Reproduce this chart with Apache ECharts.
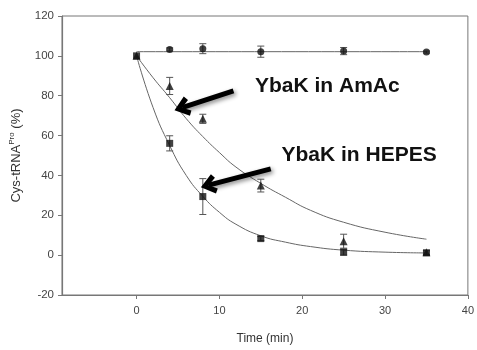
<!DOCTYPE html>
<html>
<head>
<meta charset="utf-8">
<script src="https://cdn.jsdelivr.net/npm/echarts@6/dist/echarts.min.js"></script>
<style>
  html, body { margin: 0; padding: 0; background: #fff; }
  #main { width: 477px; height: 350px; }
</style>
</head>
<body>
<div id="main"></div>
<script>
// measured points (min)
var time = [0, 4, 8, 15, 25, 35];
var ctrlTime = [4, 8, 15, 25, 35];
var ctrlVal = [103.2, 103.6, 102.1, 102.4, 101.9];
var ctrlErr = [0.8, 2.5, 2.8, 1.8, 0.5];
var amacVal = [100, 84.9, 68.4, 34.9, 7, 1.5];
var amacErr = [0, 4.3, 2.3, 3.2, 3.5, 0];
var hepesVal = [100, 56.1, 29.4, 8.3, 1.5, 1.2];
var hepesErr = [0, 3.8, 9, 1, 1.5, 1];

// fitted curves
var fitTime = [0, 2, 4, 6, 8, 10, 12, 15, 18, 21, 25, 30, 35];
var amacFit = [100, 89, 79, 68.5, 59.5, 51.5, 44.2, 36, 29, 22.5, 16.5, 11.5, 8];
var hepesFit = [100, 74, 55, 40, 29.5, 21.5, 15.5, 9.7, 6.5, 4.3, 2.5, 1.5, 1.1];
var ctrlFit = [[0, 102.1], [35, 102.1]];

// annotation arrows [tail, tip] and labels in data units
var arrowAmac = [[11.7, 82.4], [5.5, 74]];
var arrowHepes = [[16.2, 43.3], [8.7, 35.1]];
var labelAmac = [14.3, 85];
var labelHepes = [17.5, 50];

var xTicks = [0, 10, 20, 30, 40];

var chart = echarts.init(document.getElementById('main'));
var font = 'Liberation Sans, Arial, sans-serif';
var axisCol = '#777';

function pairs(xs, ys) {
  return xs.map(function (x, i) { return [x, ys[i]]; });
}
function errData(xs, ys, es) {
  return xs.map(function (x, i) { return [x, ys[i], es[i]]; });
}
function errBars(params, api) {
  var x = api.value(0), y = api.value(1), e = api.value(2);
  if (!e) return;
  var hi = api.coord([x, y + e]);
  var lo = api.coord([x, y - e]);
  var w = 3.5;
  var st = { stroke: '#555', lineWidth: 1 };
  return {
    type: 'group',
    children: [
      { type: 'line', shape: { x1: hi[0], y1: hi[1], x2: lo[0], y2: lo[1] }, style: st },
      { type: 'line', shape: { x1: hi[0] - w, y1: hi[1], x2: hi[0] + w, y2: hi[1] }, style: st },
      { type: 'line', shape: { x1: lo[0] - w, y1: lo[1], x2: lo[0] + w, y2: lo[1] }, style: st }
    ]
  };
}
function fitLine(data) {
  return {
    type: 'line', data: data, smooth: true, showSymbol: false, silent: true,
    lineStyle: { color: '#666', width: 1 }, z: 2
  };
}
function points(data, symbol, size) {
  return {
    type: 'scatter', data: data, symbol: symbol, symbolSize: size,
    itemStyle: { color: '#111' }, z: 4
  };
}
function arrow(ends, text, pos) {
  return {
    type: 'scatter', data: [], z: 6,
    markLine: {
      silent: true,
      symbol: ['none', 'path://M10,0 L20,13 L15.5,16 L10,8 L4.5,16 L0,13 Z'],
      symbolSize: [20, 16],
      label: { show: false },
      lineStyle: {
        color: '#000', width: 5, type: 'solid',
        shadowColor: 'rgba(0,0,0,0.45)', shadowBlur: 4, shadowOffsetX: 2, shadowOffsetY: 2
      },
      itemStyle: { color: '#000' },
      data: [[{ coord: ends[0] }, { coord: ends[1] }]]
    },
    markPoint: {
      silent: true, symbol: 'circle', symbolSize: 0,
      label: {
        show: true, position: 'right', distance: 0, formatter: text,
        color: '#111', fontFamily: font, fontWeight: 'bold', fontSize: 21
      },
      data: [{ coord: pos }]
    }
  };
}

chart.setOption({
  animation: false,
  grid: { left: 62, right: 7, top: 16, bottom: 50, show: true, borderColor: axisCol, borderWidth: 1 },
  xAxis: {
    type: 'value', min: -9, max: 40,
    name: 'Time (min)', nameLocation: 'middle', nameGap: 38,
    nameTextStyle: { fontFamily: font, fontSize: 12, color: '#333' },
    axisLine: { onZero: false, lineStyle: { color: axisCol, width: 1.2 } },
    axisTick: { show: true, customValues: xTicks, length: 4, lineStyle: { color: axisCol } },
    axisLabel: { customValues: xTicks, margin: 10, fontFamily: font, fontSize: 11, color: '#444' },
    splitLine: { show: false }
  },
  yAxis: {
    type: 'value', min: -20, max: 120, interval: 20,
    name: 'Cys-tRNA{sup|Pro} (%)', nameLocation: 'middle', nameGap: 37,
    nameTextStyle: {
      fontFamily: font, fontSize: 13, color: '#333',
      rich: { sup: { fontFamily: font, fontSize: 8, color: '#333', padding: [0, 0, 9, 0] } }
    },
    axisLine: { show: true, onZero: false, lineStyle: { color: axisCol, width: 1.2 } },
    axisTick: { show: true, length: 4, lineStyle: { color: axisCol } },
    axisLabel: { margin: 8, fontFamily: font, fontSize: 11.5, color: '#444' },
    splitLine: { show: false }
  },
  series: [
    fitLine(ctrlFit),
    fitLine(pairs(fitTime, amacFit)),
    fitLine(pairs(fitTime, hepesFit)),
    { type: 'custom', renderItem: errBars, data: errData(ctrlTime, ctrlVal, ctrlErr), z: 3 },
    { type: 'custom', renderItem: errBars, data: errData(time, amacVal, amacErr), z: 3 },
    { type: 'custom', renderItem: errBars, data: errData(time, hepesVal, hepesErr), z: 3 },
    points(pairs(ctrlTime, ctrlVal), 'circle', 7),
    points(pairs(time, amacVal), 'triangle', 8),
    points(pairs(time, hepesVal), 'rect', 7),
    arrow(arrowAmac, 'YbaK in AmAc', labelAmac),
    arrow(arrowHepes, 'YbaK in HEPES', labelHepes)
  ]
});
</script>
</body>
</html>
